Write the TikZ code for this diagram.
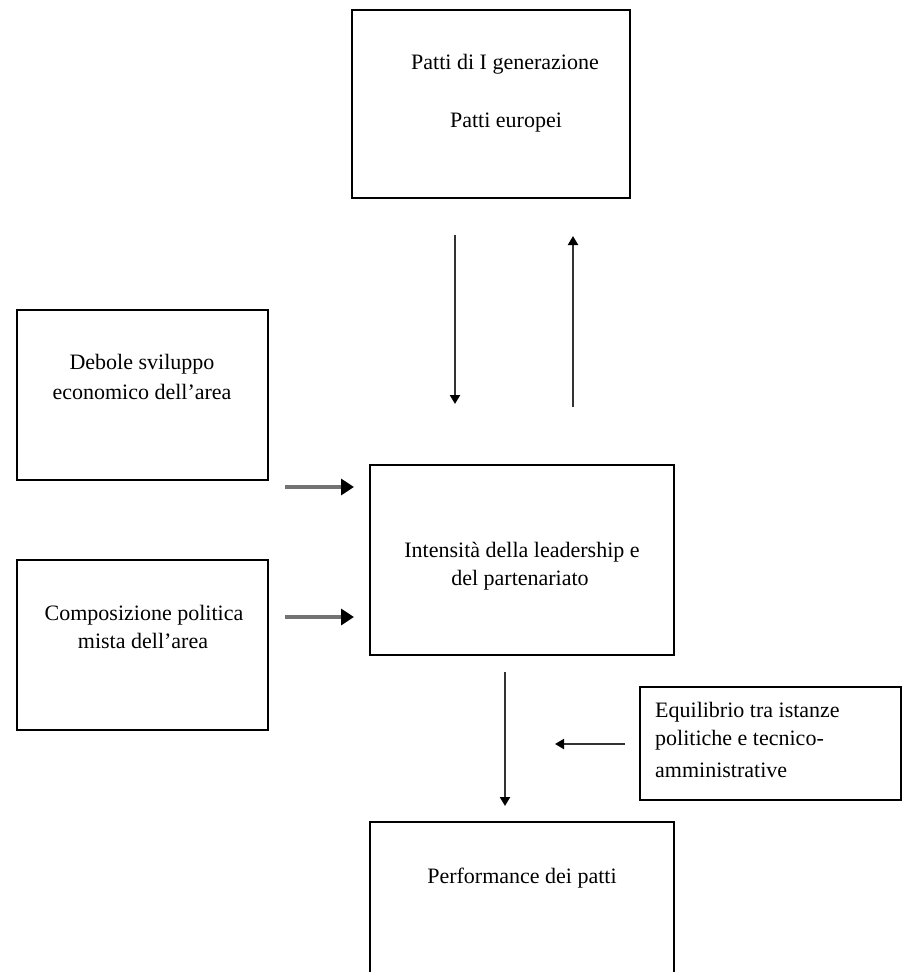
\documentclass[tikz,border=0pt]{standalone}
\usepackage{fontspec}
\setmainfont{Liberation Serif}
\usetikzlibrary{arrows.meta}
\begin{document}
\begin{tikzpicture}[x=1pt,y=-1pt,
  box/.style={draw=black,line width=2.5pt,fill=white},
  txt/.style={font=\fontsize{22}{28}\selectfont,inner sep=0pt,anchor=base},
  ltxt/.style={txt,anchor=base west},
  thin/.style={draw=black!80,line width=2pt,-{Triangle[length=9pt,width=10pt,color=black,fill=black]}},
  grey/.style={draw=black!55,line width=3.5pt,-{Triangle[length=13pt,width=16pt,color=black,fill=black]}}]
\useasboundingbox[fill=white] (0,0) rectangle (902,972);
% boxes
\draw[box] (352,10) rectangle (630,198);
\draw[box] (17,310) rectangle (268,480);
\draw[box] (17,560) rectangle (268,730);
\draw[box] (370,465) rectangle (674,655);
\draw[box] (640,687) rectangle (901,800);
\draw[box] (370,822) rectangle (674,980);
% texts
\node[txt] (t1) at (505,69) {Patti di I generazione};
\node[txt] (t2) at (506,127) {Patti europei};
\node[txt] (d1) at (142,369) {Debole sviluppo};
\node[txt] (d2) at (142,399) {economico dell'area};
\node[txt] (c1) at (144,620) {Composizione politica};
\node[txt] (c2) at (143,648) {mista dell'area};
\node[txt] (i1) at (522,557) {Intensità della leadership e};
\node[txt] (i2) at (520,585) {del partenariato};
\node[ltxt] (e1) at (655,717) {Equilibrio tra istanze};
\node[ltxt] (e2) at (655,745) {politiche e tecnico-};
\node[ltxt] (e3) at (655,777) {amministrative};
\node[txt] (p) at (522,883) {Performance dei patti};
% coordinates for arrows
\coordinate (a1s) at (455,235); \coordinate (a1e) at (455,404);
\coordinate (a2s) at (573,407); \coordinate (a2e) at (573,236);
\coordinate (b1s) at (285,487); \coordinate (b1e) at (354,487);
\coordinate (b2s) at (285,617); \coordinate (b2e) at (354,617);
\coordinate (cs) at (505,672); \coordinate (ce) at (505,806);
\coordinate (es) at (625,744); \coordinate (ee) at (555,744);
\draw[thin] (a1s) -- (a1e);
\draw[thin] (a2s) -- (a2e);
\draw[grey] (b1s) -- (b1e);
\draw[grey] (b2s) -- (b2e);
\draw[thin] (cs) -- (ce);
\draw[thin] (es) -- (ee);
\end{tikzpicture}
\end{document}
